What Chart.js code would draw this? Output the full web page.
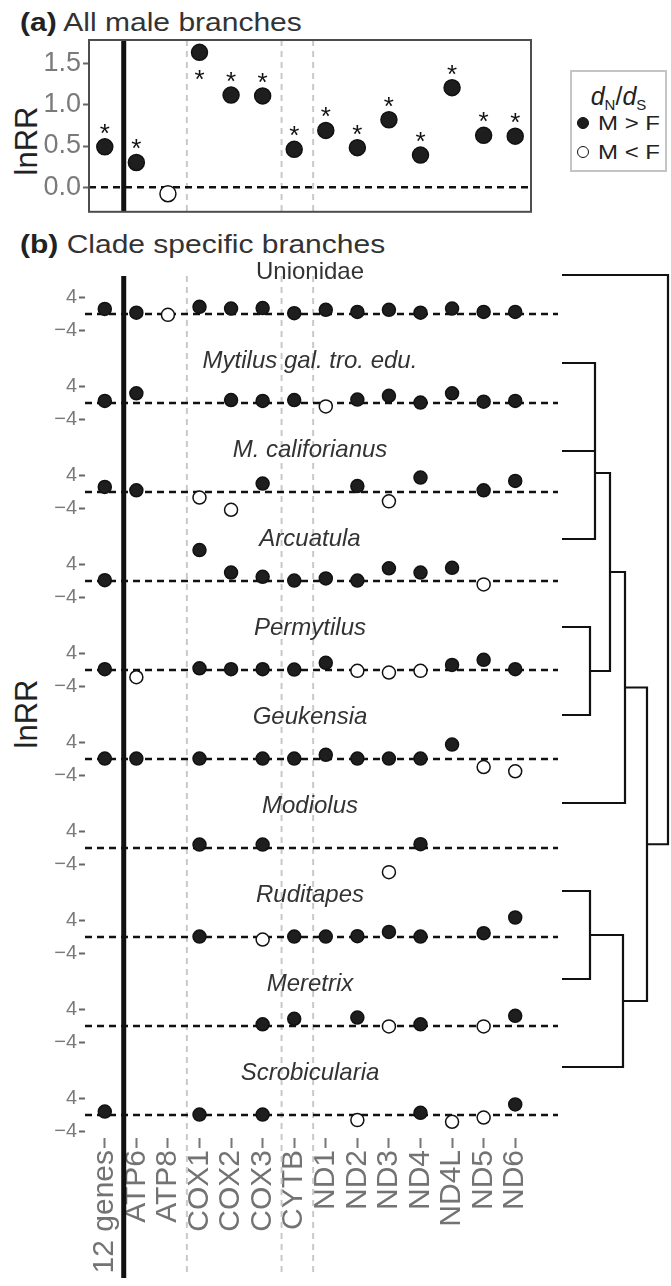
<!DOCTYPE html>
<html lang="en">
<head>
<meta charset="UTF-8" />
<title>lnRR by gene</title>
<script src="https://cdn.jsdelivr.net/npm/chart.js@4.4.1/dist/chart.umd.min.js"></script>
<style>
  body { margin: 0; background: #fff; }
  #page { position: relative; width: 671px; height: 1286px; overflow: hidden;
          font-family: "Liberation Sans", Arial, sans-serif; color: #222; }
  #page canvas, .lbl { position: absolute; }
  .title { left: 20px; font-size: 25px; line-height: 25px; white-space: nowrap; color: #333;
           transform: scaleX(1.2); transform-origin: left center; }
  .title b { color: #222; }
  .ytitle { font-size: 31px; line-height: 31px; white-space: nowrap; color: #222;
            transform: translate(-50%, -50%) rotate(-90deg); }
  #legend { left: 570px; top: 70px; width: 93px; height: 98px; border: 2px solid #c4c4c4; }
  #legend .lgTitle { position: absolute; left: 0; right: 0; top: 10px; text-align: center;
                     font-size: 25px; line-height: 28px; }
  #legend sub { font-size: 15px; vertical-align: -5px; }
  #legend .dot { position: absolute; left: 5px; width: 12px; height: 12px; border-radius: 50%;
                 box-sizing: border-box; border: 1.5px solid #111; }
  #legend .lgText { position: absolute; left: 26px; font-size: 20px; line-height: 24px; white-space: nowrap;
                    transform: scaleX(1.2); transform-origin: left center; }
</style>
</head>
<body>
<div id="page">
  <div class="lbl title" style="top:10px"><b>(a)</b> All male branches</div>
  <div class="lbl title" style="top:232px"><b>(b)</b> Clade specific branches</div>
  <div class="lbl ytitle" style="left:26px; top:141px">lnRR</div>
  <div class="lbl ytitle" style="left:26px; top:714px">lnRR</div>
  <div id="legend" class="lbl">
    <div class="lgTitle"><i>d</i><sub>N</sub>/<i>d</i><sub>S</sub></div>
    <span class="dot" style="top:45px; background:#1e1e1e"></span>
    <span class="lgText" style="top:39px">M &gt; F</span>
    <span class="dot" style="top:74px; background:#fff"></span>
    <span class="lgText" style="top:68px">M &lt; F</span>
  </div>
  <canvas id="chartA" width="671" height="230" style="left:0; top:0"></canvas>
  <canvas id="chartB" width="671" height="1030" style="left:0; top:256px"></canvas>
  <canvas id="dendro" width="121" height="842" style="left:550px; top:250px"></canvas>
</div>
<script>
  const genes = ["12 genes", "ATP6", "ATP8", "COX1", "COX2", "COX3", "CYTB",
                 "ND1", "ND2", "ND3", "ND4", "ND4L", "ND5", "ND6"];

  // (a) all male branches
  const allMale    = [0.49, 0.30, -0.08, 1.64, 1.12, 1.11, 0.46, 0.69, 0.48, 0.82, 0.39, 1.21, 0.63, 0.62];
  const allMaleSig = [1, 1, 0, 1, 1, 1, 1, 1, 1, 1, 1, 1, 1, 1];
  const ticksA = [0, 0.5, 1.0, 1.5];

  // (b) clade specific branches (null = not estimated)
  const clades = ["Unionidae", "Mytilus gal. tro. edu.", "M. califorianus", "Arcuatula", "Permytilus",
                  "Geukensia", "Modiolus", "Ruditapes", "Meretrix", "Scrobicularia"];
  const cladeItalic = [false, true, true, true, true, true, true, true, true, true];
  const unionidae     = [1.2, 0.3, -0.2, 1.7, 1.3, 1.4, 0.2, 1.0, 0.5, 1.0, 0.3, 1.3, 0.5, 0.5];
  const mytilus       = [0.5, 2.3, null, null, 0.7, 0.5, 0.7, -0.8, 0.8, 1.7, 0.1, 2.3, 0.3, 0.5];
  const mCalif        = [1.2, 0.4, null, -1.3, -4.2, 2.0, null, null, 1.4, -2.2, 3.4, null, 0.4, 2.6];
  const arcuatula     = [0.2, null, null, 7.3, 2.0, 1.0, 0.1, 0.6, 0.1, 3.0, 2.0, 3.1, -0.8, null];
  const permytilus    = [0.2, -1.7, null, 0.4, 0.2, 0.2, 0.1, 1.7, -0.2, -0.6, -0.2, 1.2, 2.4, 0.2];
  const geukensia     = [0.1, 0.1, null, 0.1, null, 0.1, 0.1, 1.0, 0.1, 0.1, 0.1, 3.4, -1.9, -2.9];
  const modiolus      = [null, null, null, 0.8, null, 0.8, null, null, null, -5.7, 0.9, null, null, null];
  const ruditapes     = [null, null, null, 0.1, null, -0.6, 0.1, 0.1, 0.2, 1.2, 0.1, null, 0.9, 4.6];
  const meretrix      = [null, null, null, null, null, 0.4, 1.7, null, 2.0, -0.1, 0.4, null, -0.1, 2.4];
  const scrobicularia = [0.8, null, null, 0.1, null, 0.1, null, null, -1.2, null, 0.5, -1.6, -0.6, 2.5];
  const cladeValues = [unionidae, mytilus, mCalif, arcuatula, permytilus,
                       geukensia, modiolus, ruditapes, meretrix, scrobicularia];
  const ticksB = [-4, 4];

  // clade tree, hclust style: negative = leaf (1-based), positive = earlier merge
  const treeMerge = [
    [-2, -3, 3.3],
    [1, -4, 3.3],
    [-5, -6, 2.8],
    [2, 3, 4.8],
    [4, -7, 6.3],
    [-8, -9, 2.8],
    [6, -10, 6.1],
    [5, 7, 8.5],
    [-1, 8, 10.6],
  ];

  // gene group separators (after category index)
  const mainBreak = 0;
  const groupBreaks = [2, 5, 6];

  // layout
  const CAT_PX = 442 / genes.length;
  const BREAK_SHIFT = 0.6;
  const ROW_GAP = 21;
  const LABEL_RISE = 9.9;
  const XB_MIN = -0.5 - 4 / CAT_PX;
  const XB_MAX = genes.length - 0.5 + 27 / CAT_PX;

  Chart.defaults.font.family = "'Liberation Sans', Arial, sans-serif";

  const dotFill = c => (c.raw && c.raw.v < 0) ? "#ffffff" : "#1e1e1e";

  function guides(greyEnd, thickEnd) {
    const vline = (ctx, px, y0, y1) => { ctx.beginPath(); ctx.moveTo(px, y0); ctx.lineTo(px, y1); ctx.stroke(); };
    return {
      id: "guides",
      beforeDatasetsDraw(chart) {
        const { ctx, chartArea: a, scales: { x } } = chart;
        ctx.save();
        ctx.strokeStyle = "#c9c9c9";
        ctx.lineWidth = 2;
        ctx.setLineDash([6, 5]);
        groupBreaks.forEach(b => vline(ctx, x.getPixelForValue(b + BREAK_SHIFT), a.top, greyEnd(chart)));
        ctx.restore();
      },
      afterDatasetsDraw(chart) {
        const { ctx, chartArea: a, scales: { x } } = chart;
        ctx.save();
        ctx.strokeStyle = "#111";
        ctx.lineWidth = 5;
        vline(ctx, x.getPixelForValue(mainBreak + BREAK_SHIFT), a.top, thickEnd(chart));
        ctx.restore();
      }
    };
  }

  // asterisks over significant genes, flipped under the dot when no room above
  const stars = {
    id: "stars",
    afterDatasetsDraw(chart) {
      const { ctx, scales: { y } } = chart;
      const pts = chart.getDatasetMeta(1).data;
      ctx.save();
      ctx.font = "26px 'Liberation Sans', Arial";
      ctx.fillStyle = "#111";
      ctx.textAlign = "center";
      ctx.textBaseline = "alphabetic";
      pts.forEach((p, i) => {
        if (!allMaleSig[i]) return;
        const up = y.getValueForPixel(p.y - 30) < y.max;
        ctx.fillText("*", p.x, p.y + (up ? -20 : 21) + 15);
      });
      ctx.restore();
    }
  };

  const box = {
    id: "box",
    afterDraw(chart) {
      const { ctx, chartArea: a } = chart;
      ctx.save();
      ctx.strokeStyle = "#4d4d4d";
      ctx.lineWidth = 2;
      ctx.strokeRect(a.left, a.top, a.right - a.left, a.bottom - a.top);
      ctx.restore();
    }
  };

  new Chart(document.getElementById("chartA"), {
    type: "scatter",
    data: {
      datasets: [
        {
          type: "line",
          data: [{ x: -0.5, y: 0 }, { x: genes.length - 0.5, y: 0 }],
          borderColor: "#111", borderWidth: 2.5, borderDash: [7, 5], pointRadius: 0, order: 5,
        },
        {
          data: allMale.map((v, i) => ({ x: i, y: v, v: v })),
          pointRadius: 8, pointBorderWidth: 1.5, pointBorderColor: "#111",
          pointBackgroundColor: dotFill, order: 1,
        },
      ],
    },
    options: {
      responsive: false,
      animation: false,
      events: [],
      layout: { padding: { top: 40, bottom: 17, left: 0, right: 140 } },
      plugins: { legend: { display: false }, tooltip: { enabled: false } },
      scales: {
        x: { type: "linear", min: -0.5, max: genes.length - 0.5, display: false },
        y: {
          min: -0.30, max: 1.79,
          afterBuildTicks: s => { s.ticks = ticksA.map(v => ({ value: v })); },
          afterFit: s => { s.width = 89; },
          ticks: { callback: v => v.toFixed(1), color: "#7a7a7a", font: { size: 27 }, padding: 2 },
          grid: { drawOnChartArea: false, tickLength: 6, tickWidth: 2, tickColor: "#666" },
          border: { display: false },
        },
      },
    },
    plugins: [guides(c => c.chartArea.bottom, c => c.chartArea.bottom), stars, box],
  });

  const dsB = [];
  cladeValues.forEach((vals, r) => {
    const base = -r * ROW_GAP;
    dsB.push({
      type: "line",
      data: [{ x: XB_MIN, y: base }, { x: XB_MAX, y: base }],
      borderColor: "#111", borderWidth: 2.5, borderDash: [7, 5], pointRadius: 0, order: 5,
    });
    dsB.push({
      data: vals.map((v, i) => (v === null ? null : { x: i, y: base + v, v: v })).filter(Boolean),
      pointRadius: 6.5, pointBorderWidth: 1.5, pointBorderColor: "#111",
      pointBackgroundColor: dotFill, order: 1,
    });
  });

  const cladeLabels = {
    id: "cladeLabels",
    afterDatasetsDraw(chart) {
      const { ctx, scales: { x, y } } = chart;
      ctx.save();
      ctx.fillStyle = "#333";
      ctx.textAlign = "center";
      ctx.textBaseline = "middle";
      clades.forEach((name, r) => {
        ctx.font = (cladeItalic[r] ? "italic " : "") + "24px 'Liberation Sans', Arial";
        ctx.fillText(name, x.getPixelForValue((genes.length - 1) / 2), y.getPixelForValue(-r * ROW_GAP + LABEL_RISE));
      });
      ctx.restore();
    }
  };

  new Chart(document.getElementById("chartB"), {
    type: "scatter",
    data: { datasets: dsB },
    options: {
      responsive: false,
      animation: false,
      events: [],
      layout: { padding: { top: 20, bottom: 0, left: 0, right: 113 } },
      plugins: { legend: { display: false }, tooltip: { enabled: false } },
      scales: {
        x: {
          type: "linear", min: XB_MIN, max: XB_MAX,
          afterBuildTicks: s => { s.ticks = genes.map((g, i) => ({ value: i })); },
          afterFit: s => { s.height = 148; },
          ticks: {
            callback: v => genes[v], autoSkip: false, minRotation: 90, maxRotation: 90,
            color: "#737373", font: { size: 30 }, padding: 2,
          },
          grid: { drawOnChartArea: false, tickLength: 10, tickWidth: 2, tickColor: "#777" },
          border: { display: false },
        },
        y: {
          min: -(clades.length - 1) * ROW_GAP - 5.43, max: 8.97,
          afterBuildTicks: s => {
            s.ticks = clades.flatMap((c, r) => ticksB.map(t => ({ value: -r * ROW_GAP + t })))
                            .sort((a, b) => a.value - b.value);
          },
          afterFit: s => { s.width = 85; },
          ticks: {
            autoSkip: false, color: "#7a7a7a", font: { size: 20 }, padding: 2,
            callback: v => {
              const d = Math.round(v + Math.round(-v / ROW_GAP) * ROW_GAP);
              return d < 0 ? "\u2212" + (-d) : String(d);
            },
          },
          grid: { drawOnChartArea: false, tickLength: 6, tickWidth: 2, tickColor: "#666" },
          border: { display: false },
        },
      },
    },
    plugins: [guides(c => c.height - 14, c => c.height - 8), cladeLabels],
  });

  function dendroPoints() {
    const nodes = [];
    const pick = ref => (ref < 0 ? { h: 0, y: -ref - 1 } : nodes[ref - 1]);
    const pts = [];
    treeMerge.forEach(([a, b, h]) => {
      const A = pick(a), B = pick(b);
      pts.push({ x: A.h, y: A.y }, { x: h, y: A.y }, { x: h, y: B.y }, { x: B.h, y: B.y }, { x: h, y: null });
      nodes.push({ h: h, y: (A.y + B.y) / 2 });
    });
    return pts;
  }

  new Chart(document.getElementById("dendro"), {
    type: "line",
    data: {
      datasets: [{
        data: dendroPoints(),
        borderColor: "#111", borderWidth: 2.2, pointRadius: 0, spanGaps: false,
        tension: 0, borderJoinStyle: "miter", clip: false,
      }],
    },
    options: {
      responsive: false,
      animation: false,
      events: [],
      layout: { padding: 0 },
      plugins: { legend: { display: false }, tooltip: { enabled: false } },
      scales: {
        x: { type: "linear", min: -1.2, max: 10.9, display: false },
        y: { type: "linear", min: -0.284, max: clades.length - 1 + 0.284, reverse: true, display: false },
      },
    },
  });
</script>
</body>
</html>
